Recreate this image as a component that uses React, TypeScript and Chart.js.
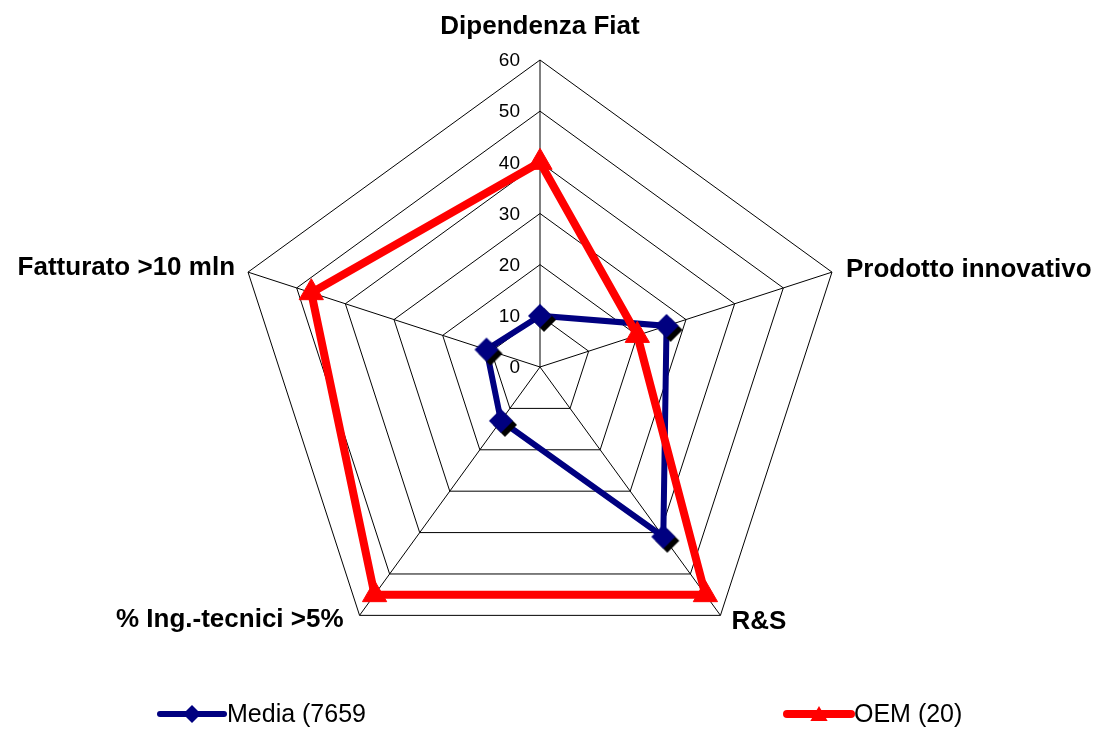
import React, { useEffect, useRef } from "react";
import { Chart, registerables } from "chart.js";

Chart.register(...registerables);

const categories = [
  "Dipendenza Fiat",
  "Prodotto innovativo",
  "R&S",
  "% Ing.-tecnici >5%",
  "Fatturato >10 mln",
];
const mediaValues = [10, 26, 41, 13, 11];
const oemValues = [40, 20, 55, 55, 47];
const seriesNames = ["Media (7659", "OEM (20)"];
const tickValues = [0, 10, 20, 30, 40, 50, 60];

const NAVY = "#000080";
const RED = "#FF0000";
const FONT = '"Liberation Sans", Arial, Helvetica, sans-serif';

function makeDiamond(): HTMLCanvasElement {
  const c = document.createElement("canvas");
  c.width = 40;
  c.height = 40;
  const g = c.getContext("2d")!;
  const d = (cx: number, cy: number, h: number, col: string) => {
    g.beginPath();
    g.moveTo(cx, cy - h);
    g.lineTo(cx + h, cy);
    g.lineTo(cx, cy + h);
    g.lineTo(cx - h, cy);
    g.closePath();
    g.fillStyle = col;
    g.fill();
  };
  d(24, 24, 12, "#000000");
  d(20, 20, 12, NAVY);
  return c;
}

// label placement relative to the outer vertex of each axis: [dx, dy, align]
const labelPlacement: [number, number, CanvasTextAlign][] = [
  [0, -33, "center"],
  [14, -2, "left"],
  [11, 6, "left"],
  [-16, 4, "right"],
  [-13, -4, "right"],
];

const decorPlugin = {
  id: "decor",
  afterDraw(chart: any) {
    const ctx: CanvasRenderingContext2D = chart.ctx;
    const scale = chart.scales.r;
    ctx.save();
    // tick labels
    ctx.font = `19px ${FONT}`;
    ctx.fillStyle = "#000";
    ctx.textAlign = "right";
    ctx.textBaseline = "middle";
    tickValues.forEach((v) => {
      const p = scale.getPointPositionForValue(0, v);
      ctx.fillText(String(v), p.x - 20, p.y + 1);
    });
    // point labels
    ctx.font = `bold 26px ${FONT}`;
    (chart.data.labels as string[]).forEach((lab, i) => {
      const p = scale.getPointPositionForValue(i, scale.max);
      const [dx, dy, al] = labelPlacement[i];
      ctx.textAlign = al;
      ctx.fillText(lab, p.x + dx, p.y + dy);
    });
    // legend
    ctx.font = `25px ${FONT}`;
    ctx.textAlign = "left";
    const legendX = [160, 787];
    const legendY = 714;
    chart.data.datasets.forEach((ds: any, i: number) => {
      const x0 = legendX[i];
      const x1 = x0 + 64;
      ctx.strokeStyle = ds.borderColor;
      ctx.lineWidth = ds.borderWidth;
      ctx.lineCap = "round";
      ctx.beginPath();
      ctx.moveTo(x0, legendY);
      ctx.lineTo(x1, legendY);
      ctx.stroke();
      const cx = (x0 + x1) / 2;
      ctx.fillStyle = ds.borderColor;
      ctx.beginPath();
      if (i === 0) {
        const h = 9;
        ctx.moveTo(cx, legendY - h);
        ctx.lineTo(cx + h, legendY);
        ctx.lineTo(cx, legendY + h);
        ctx.lineTo(cx - h, legendY);
      } else {
        const r = 10;
        ctx.moveTo(cx, legendY + 2 - r);
        ctx.lineTo(cx + r * 0.866, legendY + 2 + r * 0.5);
        ctx.lineTo(cx - r * 0.866, legendY + 2 + r * 0.5);
      }
      ctx.closePath();
      ctx.fill();
      ctx.fillStyle = "#000";
      ctx.textBaseline = "middle";
      ctx.fillText(ds.label, x1 + 3, legendY + 1);
    });
    ctx.restore();
  },
};

export default function App() {
  const ref = useRef<HTMLCanvasElement>(null);
  useEffect(() => {
    if (!ref.current) return;
    const diamond = makeDiamond();
    const chart = new Chart(ref.current, {
      type: "radar",
      data: {
        labels: categories,
        datasets: [
          {
            label: seriesNames[0],
            data: mediaValues,
            borderColor: NAVY,
            backgroundColor: NAVY,
            borderWidth: 6,
            fill: false,
            tension: 0,
            pointStyle: diamond as any,
            pointRadius: 12,
            order: 1,
          },
          {
            label: seriesNames[1],
            data: oemValues,
            borderColor: RED,
            backgroundColor: RED,
            borderWidth: 8,
            fill: false,
            tension: 0,
            pointStyle: "triangle",
            pointRadius: 14,
            pointBorderWidth: 1,
            pointBackgroundColor: RED,
            pointBorderColor: RED,
            order: 0,
          },
        ],
      },
      options: {
        responsive: false,
        animation: false,
        devicePixelRatio: 1,
        layout: { padding: { left: 233, right: 255, top: 60, bottom: 55 } },
        plugins: {
          legend: { display: false },
          tooltip: { enabled: false },
          title: { display: false },
        },
        scales: {
          r: {
            min: 0,
            max: 60,
            beginAtZero: true,
            ticks: { stepSize: 10, display: false, showLabelBackdrop: false },
            grid: { color: "#000", lineWidth: 1, circular: false },
            angleLines: { color: "#000", lineWidth: 1 },
            pointLabels: { display: false },
          },
        },
      },
      plugins: [decorPlugin],
    });
    return () => chart.destroy();
  }, []);
  return (
    <div style={{ position: "absolute", left: 0, top: 0, width: 1102, height: 729, background: "#fff" }}>
      <canvas ref={ref} width={1102} height={729} />
    </div>
  );
}
